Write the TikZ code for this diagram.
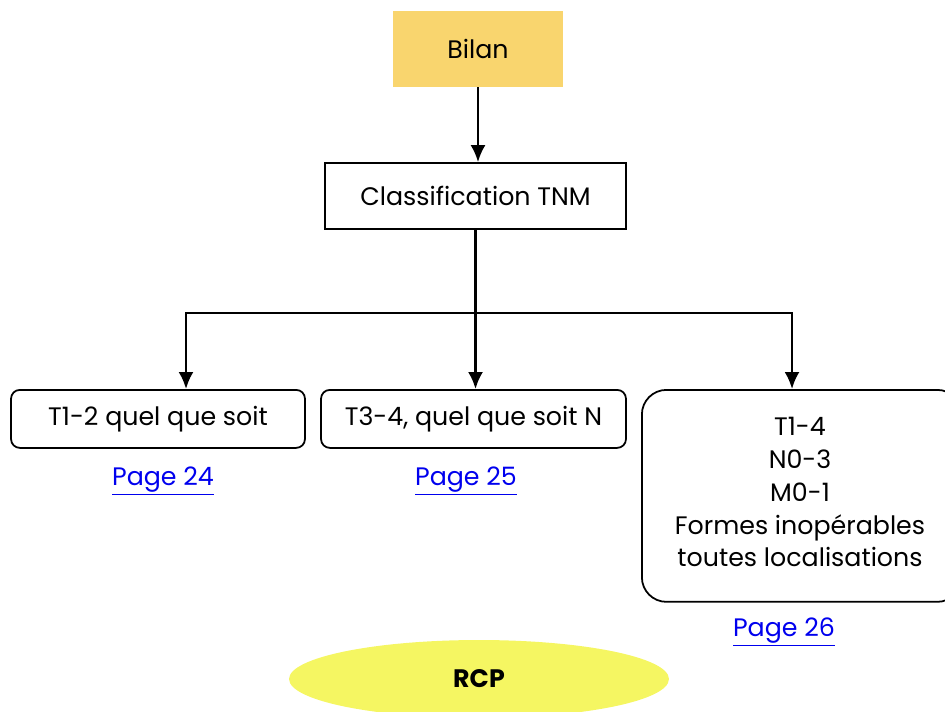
\documentclass[tikz,border=0pt]{standalone}
\usepackage{fontspec}
\setmainfont{Poppins}
\usetikzlibrary{arrows.meta,positioning,shapes.geometric}
\definecolor{bilanfill}{HTML}{F9D56E}
\definecolor{rcpfill}{HTML}{F5F662}
\definecolor{linkblue}{HTML}{0000EE}

\begin{document}
\begin{tikzpicture}[
  x=0.02cm, y=-0.02cm,
  >={Latex[length=3.4mm,width=3mm]},
  font=\fontsize{14.4}{18.7}\selectfont,
  box/.style={draw,line width=1pt,minimum height=1.16cm,inner sep=0pt},
  rbox/.style={box,rounded corners=5pt},
  arr/.style={->,line width=1.4pt},
  link/.style={text=linkblue}
]

% -------------------------
% Frame (picture is cut at the edges)
% -------------------------
\clip (0,0) rectangle (945,711);

% -------------------------
% Geometry
% -------------------------
\def\yBus{313}
\def\yRow{389}

% -------------------------
% Nodes
% -------------------------
\node[fill=bilanfill,minimum width=3.4cm,minimum height=1.52cm] (bilan) at (478,49) {Bilan};
\node[box,minimum width=6.02cm,minimum height=1.32cm] (tnm) at (475.5,196) {Classification TNM};

\node[rbox,minimum width=5.88cm,anchor=north] (t12) at (158,\yRow) {T1-2 quel que soit};
\node[rbox,minimum width=6.1cm,anchor=north] (t34) at (473.5,\yRow) {T3-4, quel que soit N};
\node[box,rounded corners=14pt,minimum width=6.4cm,minimum height=4.24cm,anchor=north west] (t14) at (641,\yRow) {};
\node[align=center,anchor=north] (t14txt) at (800,411)
  {T1-4\\N0-3\\M0-1\\Formes inopérables\\toutes localisations};

\node[link] (p24) at (163,481) {\underline{Page 24}};
\node[link] (p25) at (466,481) {\underline{Page 25}};
\node[link] (p26) at (784,632) {\underline{Page 26}};

\node[ellipse,fill=rcpfill,minimum width=7.6cm,minimum height=1.56cm] (rcp) at (479,679) {\textbf{RCP}};

% -------------------------
% Connectors
% -------------------------
\draw[arr] (bilan) -- (bilan |- tnm.north);
\coordinate (bus) at (tnm.south |- 0,\yBus);
\draw[line width=1.4pt] (tnm.south) -- (bus);
\draw[arr] (bus) -- (bus |- t34.north);
\draw[arr] (bus) -| (186,\yRow);
\draw[arr] (bus) -| (792,\yRow);

\end{tikzpicture}
\end{document}
